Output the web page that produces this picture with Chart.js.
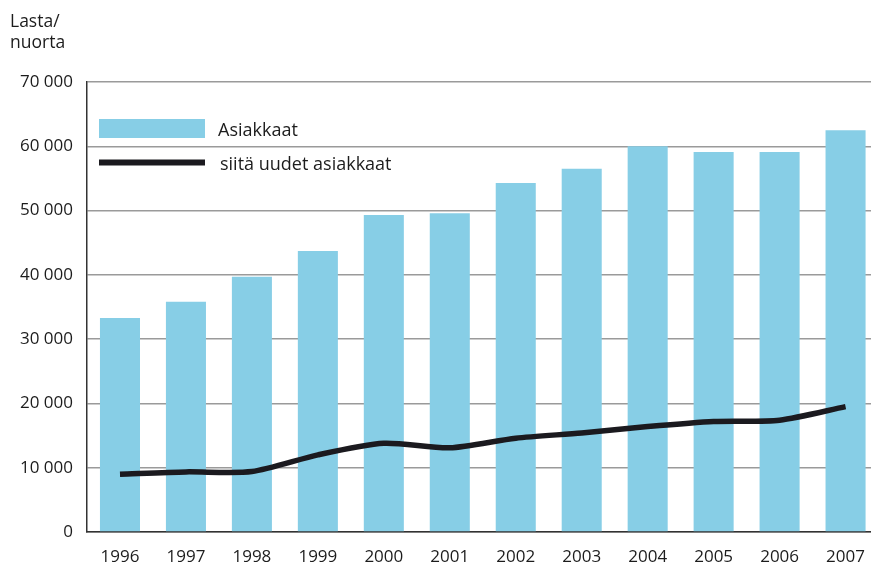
<!DOCTYPE html>
<html>
<head>
<meta charset="utf-8">
<script src="https://cdn.jsdelivr.net/npm/chart.js@4/dist/chart.umd.min.js"></script>
<style>
  html, body { margin: 0; padding: 0; background: #fff; overflow: hidden; }
  #wrap { width: 871px; height: 565px; overflow: hidden; }
</style>
</head>
<body>
<div id="wrap"><canvas id="c" width="880" height="565"></canvas></div>
<script>
const categories = ['1996','1997','1998','1999','2000','2001','2002','2003','2004','2005','2006','2007'];
const asiakkaat = [33300, 35800, 39700, 43700, 49300, 49600, 54300, 56500, 60000, 59100, 59100, 62500];
const uudetAsiakkaat = [9000, 9350, 9400, 12000, 13800, 13100, 14600, 15400, 16400, 17200, 17400, 19500];
const yTicks = [0, 10000, 20000, 30000, 40000, 50000, 60000, 70000];
const seriesNames = ['Asiakkaat', 'siitä uudet asiakkaat'];
const yTitle = ['Lasta/', 'nuorta'];

const FONT = '"Open Sans", "DejaVu Sans", sans-serif';
const BAR_COLOR = '#87cee6';
const LINE_COLOR = '#1b1a1f';
const TEXT = '#1c1c1c';

function fmt(v) {
  return String(v).replace(/\B(?=(\d{3})+(?!\d))/g, ' ');
}

const overlay = {
  id: 'overlay',
  afterDraw(chart) {
    const ctx = chart.ctx;
    ctx.save();
    ctx.fillStyle = TEXT;
    ctx.font = '17.5px ' + FONT;
    ctx.textAlign = 'left';
    ctx.textBaseline = 'alphabetic';
    ctx.fillText(yTitle[0], 10, 27);
    ctx.fillText(yTitle[1], 10, 48);
    // legend
    ctx.fillStyle = BAR_COLOR;
    ctx.fillRect(99, 119, 106, 19);
    ctx.strokeStyle = LINE_COLOR;
    ctx.lineWidth = 6;
    ctx.beginPath();
    ctx.moveTo(99, 162.5);
    ctx.lineTo(205, 162.5);
    ctx.stroke();
    ctx.fillStyle = TEXT;
    ctx.font = '18px ' + FONT;
    ctx.fillText(seriesNames[0], 218, 136);
    ctx.fillText(seriesNames[1], 220, 170);
    ctx.restore();
  }
};

new Chart(document.getElementById('c'), {
  data: {
    labels: categories,
    datasets: [
      {
        type: 'line',
        label: seriesNames[1],
        data: uudetAsiakkaat,
        borderColor: LINE_COLOR,
        borderWidth: 5.5,
        pointRadius: 0,
        tension: 0.25,
        fill: false,
        order: 0
      },
      {
        type: 'bar',
        label: seriesNames[0],
        data: asiakkaat,
        backgroundColor: BAR_COLOR,
        borderWidth: 0,
        barPercentage: 1,
        categoryPercentage: 0.607,
        order: 1
      }
    ]
  },
  options: {
    responsive: false,
    animation: false,
    layout: { padding: { left: 0, top: 82, right: 0, bottom: 0 } },
    plugins: { legend: { display: false }, tooltip: { enabled: false }, title: { display: false } },
    scales: {
      x: {
        grid: { display: false, drawTicks: false },
        border: { display: true, color: '#333', width: 1.5 },
        ticks: { color: TEXT, font: { family: FONT, size: 17 }, padding: 15, maxRotation: 0 },
        afterFit(scale) { scale.height = 33; }
      },
      y: {
        min: 0,
        max: 70000,
        afterBuildTicks(scale) { scale.ticks = yTicks.map(v => ({ value: v })); },
        grid: { color: '#9a9a9a', lineWidth: 1.5, drawTicks: false },
        border: { display: true, color: '#333', width: 1.5 },
        ticks: { color: TEXT, font: { family: FONT, size: 17 }, padding: 14, callback: v => fmt(v) },
        afterFit(scale) { scale.width = 87; }
      }
    }
  },
  plugins: [overlay]
});
</script>
</body>
</html>
